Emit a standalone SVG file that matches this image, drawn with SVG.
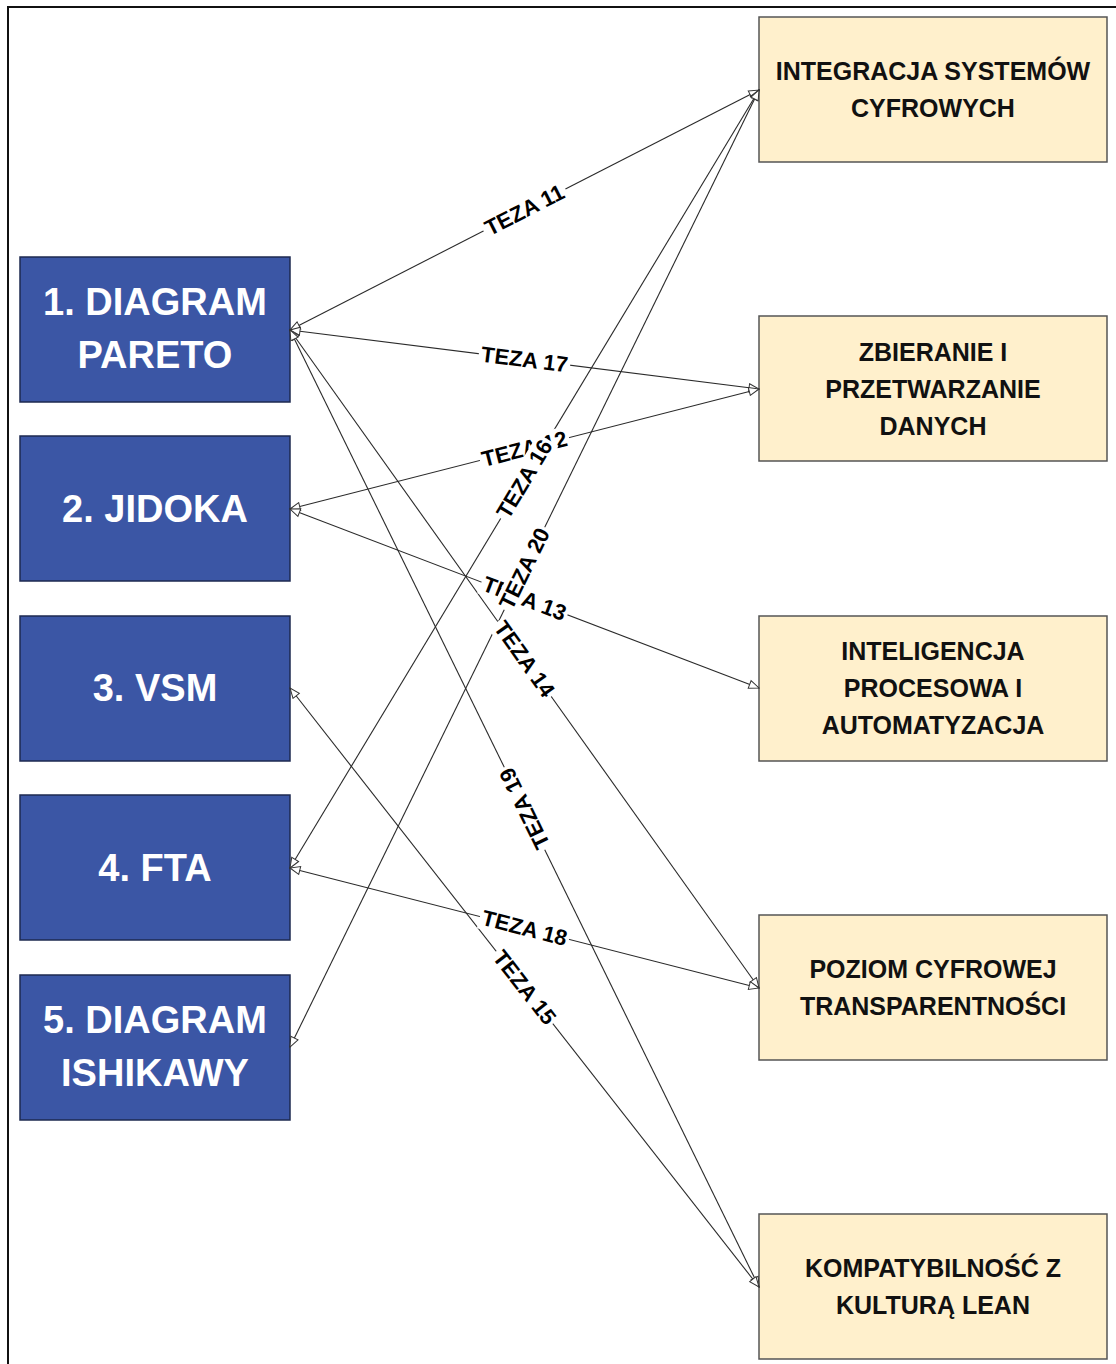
<svg xmlns="http://www.w3.org/2000/svg" width="1116" height="1364" viewBox="0 0 1116 1364">
  <style>
    .tool rect { fill: #3B56A5; stroke: #1E2A50; stroke-width: 1.5; }
    .tool text { fill: #FFFFFF; font-family: "Liberation Sans", Arial, sans-serif; font-weight: bold; font-size: 38px; text-anchor: middle; dominant-baseline: central; }
    .aspect rect { fill: #FFF0CC; stroke: #555555; stroke-width: 1.5; }
    .aspect text { fill: #111111; font-family: "Liberation Sans", Arial, sans-serif; font-weight: bold; font-size: 25px; text-anchor: middle; dominant-baseline: central; }
    .links line { stroke: #2A2A2A; stroke-width: 1.1; fill: none; marker-start: url(#tip); marker-end: url(#tip); }
    .tag rect { fill: #FFFFFF; stroke: none; }
    .tag text { fill: #000000; font-family: "Liberation Sans", Arial, sans-serif; font-weight: bold; font-size: 22px; text-anchor: middle; dominant-baseline: central; }
  </style>
  <defs>
    <marker id="tip" viewBox="0 0 12 10" refX="11" refY="5" markerWidth="12" markerHeight="10" markerUnits="userSpaceOnUse" orient="auto-start-reverse">
      <path d="M1,1 L11,5 L1,9 Z" fill="#FFFFFF" stroke="#333333" stroke-width="1"/>
    </marker>
  </defs>

  <rect width="1116" height="1364" fill="#FFFFFF"/>
  <!-- outer frame -->
  <rect x="8" y="7" width="1130" height="1380" fill="none" stroke="#111111" stroke-width="2"/>

  <!-- quality tools (left column) -->
  <g id="tool-pareto" class="tool">
    <rect x="20" y="257" width="270" height="145"/>
    <text x="155" y="302">1. DIAGRAM</text>
    <text x="155" y="355">PARETO</text>
  </g>
  <g id="tool-jidoka" class="tool">
    <rect x="20" y="436" width="270" height="145"/>
    <text x="155" y="509">2. JIDOKA</text>
  </g>
  <g id="tool-vsm" class="tool">
    <rect x="20" y="616" width="270" height="145"/>
    <text x="155" y="688">3. VSM</text>
  </g>
  <g id="tool-fta" class="tool">
    <rect x="20" y="795" width="270" height="145"/>
    <text x="155" y="868">4. FTA</text>
  </g>
  <g id="tool-ishikawa" class="tool">
    <rect x="20" y="975" width="270" height="145"/>
    <text x="155" y="1020">5. DIAGRAM</text>
    <text x="155" y="1073">ISHIKAWY</text>
  </g>

  <!-- digital aspects (right column) -->
  <g id="aspect-integration" class="aspect">
    <rect x="759" y="17" width="348" height="145"/>
    <text x="933" y="71">INTEGRACJA SYSTEMÓW</text>
    <text x="933" y="108">CYFROWYCH</text>
  </g>
  <g id="aspect-data" class="aspect">
    <rect x="759" y="316" width="348" height="145"/>
    <text x="933" y="352">ZBIERANIE I</text>
    <text x="933" y="389">PRZETWARZANIE</text>
    <text x="933" y="426">DANYCH</text>
  </g>
  <g id="aspect-intelligence" class="aspect">
    <rect x="759" y="616" width="348" height="145"/>
    <text x="933" y="651">INTELIGENCJA</text>
    <text x="933" y="688">PROCESOWA I</text>
    <text x="933" y="725">AUTOMATYZACJA</text>
  </g>
  <g id="aspect-transparency" class="aspect">
    <rect x="759" y="915" width="348" height="145"/>
    <text x="933" y="969">POZIOM CYFROWEJ</text>
    <text x="933" y="1006">TRANSPARENTNOŚCI</text>
  </g>
  <g id="aspect-lean" class="aspect">
    <rect x="759" y="1214" width="348" height="145"/>
    <text x="933" y="1268">KOMPATYBILNOŚĆ Z</text>
    <text x="933" y="1305">KULTURĄ LEAN</text>
  </g>

  <!-- connectors -->
  <g id="connectors">
    <g class="links">
      <line x1="290" y1="330" x2="759" y2="90"/>
      <line x1="290" y1="330" x2="759" y2="389"/>
      <line x1="290" y1="330" x2="759" y2="988"/>
      <line x1="290" y1="330" x2="759" y2="1287"/>
      <line x1="290" y1="509" x2="759" y2="389"/>
      <line x1="290" y1="509" x2="759" y2="688"/>
      <line x1="290" y1="868" x2="759" y2="90"/>
      <line x1="290" y1="1047" x2="759" y2="90"/>
      <line x1="290" y1="868" x2="759" y2="988"/>
      <line x1="290" y1="688" x2="759" y2="1287"/>
    </g>
    <!-- thesis labels at connector midpoints -->
    <g class="tag" transform="translate(524.5,210) rotate(-27.1)"><rect x="-46" y="-12" width="92" height="24"/><text>TEZA 11</text></g>
    <g class="tag" transform="translate(524.5,359.5) rotate(7.17)"><rect x="-46" y="-12" width="92" height="24"/><text>TEZA 17</text></g>
    <g class="tag" transform="translate(524.5,449) rotate(-14.35)"><rect x="-46" y="-12" width="92" height="24"/><text>TEZA 12</text></g>
    <g class="tag" transform="translate(524.5,479) rotate(-58.92)"><rect x="-46" y="-12" width="92" height="24"/><text>TEZA 16</text></g>
    <g class="tag" transform="translate(524.5,598.5) rotate(20.88)"><rect x="-46" y="-12" width="92" height="24"/><text>TEZA 13</text></g>
    <g class="tag" transform="translate(524.5,568.5) rotate(-63.9)"><rect x="-46" y="-12" width="92" height="24"/><text>TEZA 20</text></g>
    <g class="tag" transform="translate(524.5,659) rotate(54.52)"><rect x="-46" y="-12" width="92" height="24"/><text>TEZA 14</text></g>
    <g class="tag" transform="translate(524.5,808.5) rotate(-116.1)"><rect x="-46" y="-12" width="92" height="24"/><text>TEZA 19</text></g>
    <g class="tag" transform="translate(524.5,928) rotate(14.35)"><rect x="-46" y="-12" width="92" height="24"/><text>TEZA 18</text></g>
    <g class="tag" transform="translate(524.5,987.5) rotate(51.94)"><rect x="-46" y="-12" width="92" height="24"/><text>TEZA 15</text></g>
  </g>
</svg>
